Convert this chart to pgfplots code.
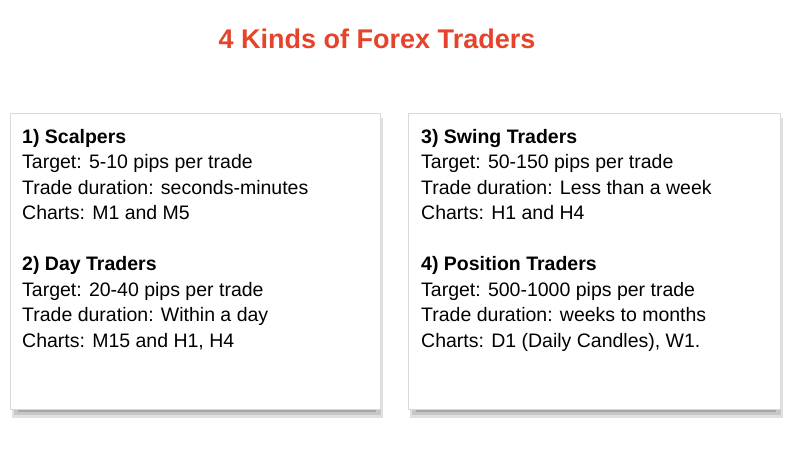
\documentclass[border=0pt]{standalone}
\usepackage{pgfplots}
\pgfplotsset{compat=1.18}
\usepackage{fontspec}
\setmainfont{Liberation Sans}
\definecolor{titlered}{HTML}{E5432A}
\begin{document}
\begin{tikzpicture}
\begin{axis}[width=798pt,height=473pt,scale only axis,xmin=0,xmax=798,ymin=0,ymax=473,y dir=reverse,hide axis,clip=false]
\fill[white] (axis cs:0,0) rectangle (axis cs:798,473);
% shadows left
\fill[black!12] (axis cs:12,118) rectangle (axis cs:383,418);
\fill[black!22] (axis cs:14,120) rectangle (axis cs:381,415);
\fill[black!35] (axis cs:18,125) rectangle (axis cs:376,412);
\fill[white,draw=black!15] (axis cs:10,113) rectangle (axis cs:380,409);
% shadows right
\fill[black!12] (axis cs:410,118) rectangle (axis cs:783,418);
\fill[black!22] (axis cs:412,120) rectangle (axis cs:781,415);
\fill[black!35] (axis cs:416,125) rectangle (axis cs:776,412);
\fill[white,draw=black!15] (axis cs:408,113) rectangle (axis cs:780,409);
\node[text=titlered,font=\fontsize{27}{30}\selectfont\bfseries] at (axis cs:377,39) {4 Kinds of Forex Traders};
\node[anchor=north west,align=left,font=\fontsize{19.5}{25.5}\selectfont,inner sep=0pt] at (axis cs:22,129) {\textbf{1) Scalpers}\\Target: 5-10 pips per trade\\Trade duration: seconds-minutes\\Charts: M1 and M5\\[25.5pt]\textbf{2) Day Traders}\\Target: 20-40 pips per trade\\Trade duration: Within a day\\Charts: M15 and H1, H4};
\node[anchor=north west,align=left,font=\fontsize{19.5}{25.5}\selectfont,inner sep=0pt] at (axis cs:421,129) {\textbf{3) Swing Traders}\\Target: 50-150 pips per trade\\Trade duration: Less than a week\\Charts: H1 and H4\\[25.5pt]\textbf{4) Position Traders}\\Target: 500-1000 pips per trade\\Trade duration: weeks to months\\Charts: D1 (Daily Candles), W1.};
\end{axis}
\end{tikzpicture}
\end{document}
